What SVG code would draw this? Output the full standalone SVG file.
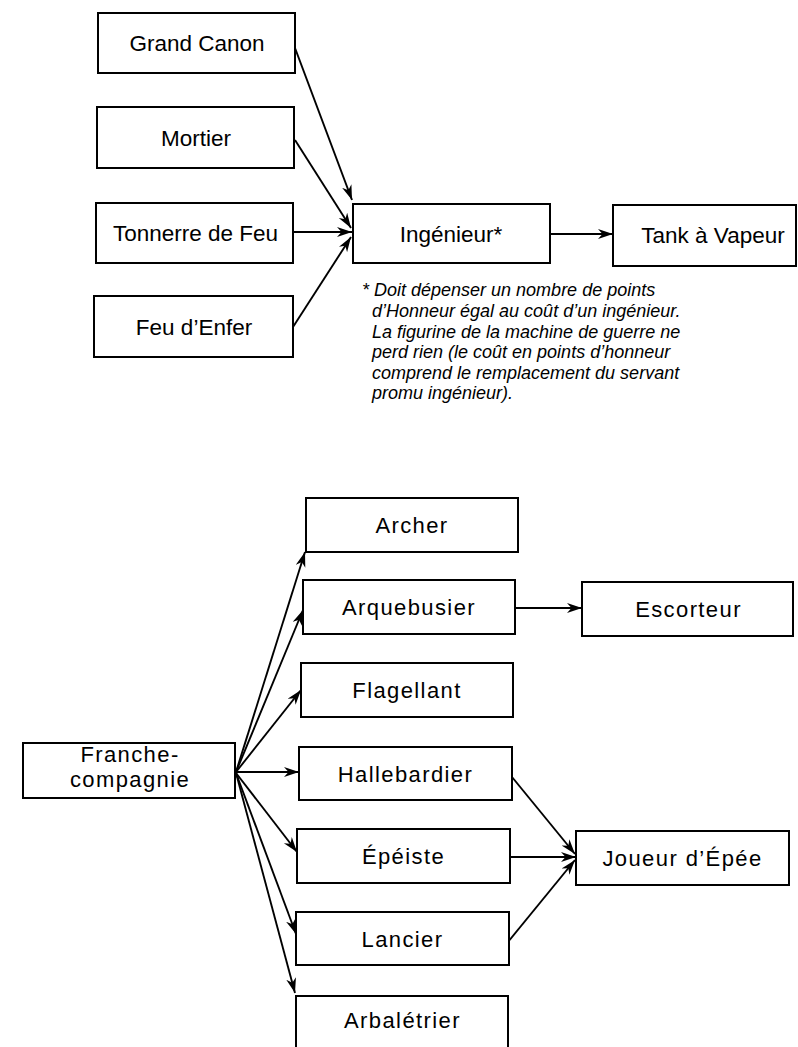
<svg xmlns="http://www.w3.org/2000/svg" width="798" height="1047" viewBox="0 0 798 1047">
<style>
.box{fill:#fff;stroke:#000;stroke-width:2}
.t{font-family:"Liberation Sans",Arial,sans-serif;font-size:22.5px;text-anchor:middle;fill:#000}
.b{font-family:"Liberation Sans",Arial,sans-serif;font-size:22px;letter-spacing:1.4px;text-anchor:middle;fill:#000}
.note{font-family:"Liberation Sans",Arial,sans-serif;font-size:18px;font-style:italic;fill:#000}
.c{fill:none;stroke:#000;stroke-width:1.9;marker-end:url(#ah)}
</style>
<defs>
<marker id="ah" markerUnits="userSpaceOnUse" markerWidth="17" markerHeight="11" refX="15" refY="5" orient="auto">
<path d="M0,0 L15,5 L0,10 L4.5,5 z" fill="#000"/>
</marker>
</defs>
<rect width="798" height="1047" fill="#fff"/>
<g id="connectors">
<line class="c" x1="295" y1="48" x2="352" y2="200"/>
<line class="c" x1="295" y1="140" x2="351" y2="228"/>
<line class="c" x1="293" y1="232" x2="352" y2="232"/>
<line class="c" x1="293" y1="327" x2="351" y2="237"/>
<line class="c" x1="550" y1="234" x2="613" y2="234"/>
<line class="c" x1="236" y1="772" x2="305" y2="552"/>
<line class="c" x1="236" y1="772" x2="303" y2="610"/>
<line class="c" x1="236" y1="772" x2="301" y2="690"/>
<line class="c" x1="236" y1="772" x2="299" y2="772"/>
<line class="c" x1="236" y1="773" x2="297" y2="852"/>
<line class="c" x1="236" y1="773" x2="296" y2="934"/>
<line class="c" x1="236" y1="773" x2="295" y2="993"/>
<line class="c" x1="515" y1="608" x2="582" y2="608"/>
<line class="c" x1="512" y1="777" x2="575" y2="854"/>
<line class="c" x1="510" y1="857" x2="576" y2="857"/>
<line class="c" x1="508" y1="942" x2="575" y2="860"/>
</g>
<g id="grand-canon"><rect class="box" x="98" y="13" width="197" height="60"/><text class="t" x="197" y="51">Grand Canon</text></g>
<g id="mortier"><rect class="box" x="97" y="107" width="197" height="61"/><text class="t" x="196" y="146">Mortier</text></g>
<g id="tonnerre"><rect class="box" x="96" y="203" width="197" height="60"/><text class="t" x="195.5" y="241">Tonnerre de Feu</text></g>
<g id="feu-enfer"><rect class="box" x="94" y="296" width="199" height="61"/><text class="t" x="194" y="335">Feu d’Enfer</text></g>
<g id="ingenieur"><rect class="box" x="353" y="204" width="197" height="59"/><text class="t" x="451" y="242">Ingénieur*</text></g>
<g id="tank"><rect class="box" x="613" y="205" width="183" height="61"/><text class="t" x="713" y="243">Tank à Vapeur</text></g>
<g id="note">
<text class="note" x="362" y="296">* Doit dépenser un nombre de points</text>
<text class="note" x="372" y="317">d’Honneur égal au coût d’un ingénieur.</text>
<text class="note" x="372" y="337.5">La figurine de la machine de guerre ne</text>
<text class="note" x="372" y="358">perd rien (le coût en points d’honneur</text>
<text class="note" x="372" y="378.5">comprend le remplacement du servant</text>
<text class="note" x="372" y="399">promu ingénieur).</text>
</g>
<g id="franche"><rect class="box" x="23" y="743" width="212" height="55"/><text class="b" x="130" y="762">Franche-</text><text class="b" x="130" y="787">compagnie</text></g>
<g id="archer"><rect class="box" x="306" y="498" width="212" height="54"/><text class="b" x="412" y="533">Archer</text></g>
<g id="arquebusier"><rect class="box" x="303" y="580" width="212" height="54"/><text class="b" x="409" y="615">Arquebusier</text></g>
<g id="flagellant"><rect class="box" x="301" y="663" width="212" height="54"/><text class="b" x="407" y="698">Flagellant</text></g>
<g id="hallebardier"><rect class="box" x="299" y="747" width="213" height="53"/><text class="b" x="405.5" y="781.5">Hallebardier</text></g>
<g id="epeiste"><rect class="box" x="297" y="829" width="213" height="54"/><text class="b" x="403.5" y="864">Épéiste</text></g>
<g id="lancier"><rect class="box" x="296" y="912" width="213" height="53"/><text class="b" x="402.5" y="946.5">Lancier</text></g>
<g id="arbaletrier"><rect class="box" x="296" y="996" width="212" height="60"/><text class="b" x="402.5" y="1028">Arbalétrier</text></g>
<g id="escorteur"><rect class="box" x="582" y="582" width="211" height="54"/><text class="b" x="688.5" y="617">Escorteur</text></g>
<g id="joueur"><rect class="box" x="576" y="831" width="213" height="54"/><text class="b" x="682.5" y="866">Joueur d’Épée</text></g>
</svg>
